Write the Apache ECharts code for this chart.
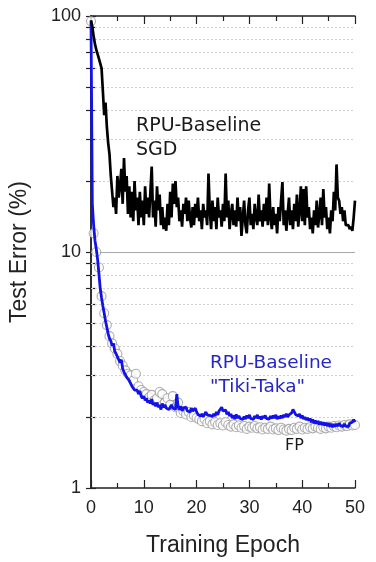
<!DOCTYPE html>
<html>
<head>
    <meta charset="utf-8">
    <title>Test error vs training epoch</title>
    <script src="https://cdn.jsdelivr.net/npm/echarts@6/dist/echarts.min.js"></script>
    <style>
        html, body { margin: 0; padding: 0; background: #fff; }
        #main { width: 376px; height: 562px; }
    </style>
</head>
<body>
<div id="main"></div>
<script type="text/javascript">
    // epoch spacing of the samples
    var lineStep = 0.25;
    var fpStep = 0.5;

    // RPU-Baseline SGD, test error (%) every 0.25 epoch
    var sgdErr = [
        96, 90, 82, 76, 72, 69, 66, 63,
        60, 48, 38, 43, 34, 29, 26, 21,
        18, 15.5, 17, 14.5, 21, 17, 19, 22.5,
        16, 25, 18, 21, 14.5, 19, 14, 18,
        13.5, 20, 15, 17, 13, 18, 14, 16.5,
        13, 19, 14.5, 17, 14, 18, 23, 14,
        16.5, 12.8, 19, 15, 17.5, 13, 15.5, 12.5,
        14, 12.3, 16, 13, 18, 14, 19.5, 16,
        20, 15.5, 17, 13.5, 15, 12.8, 16, 14.5,
        17, 13.5, 16.5, 14, 12.7, 15.5, 13, 16,
        14, 17, 13.5, 15, 12.5, 16, 14, 15,
        13, 21.5, 15, 12.5, 16.5, 13.5, 15.5, 12.5,
        17, 14, 15, 12.8, 16, 13.5, 21.5, 14,
        16.5, 12.5, 14.5, 16, 13, 15, 12.8, 17,
        13.5, 15.5, 11.7, 14, 16.5, 13, 12, 15,
        17, 13, 14.5, 12.5, 16, 14, 13, 17.5,
        13.5, 15, 12.8, 16, 13.5, 17, 13, 19.5,
        14, 12.5, 15.5, 13, 14.5, 12, 15.5, 13.5,
        16.5, 19.8, 13, 15, 12.3, 14.5, 17, 13,
        15, 12.5, 16, 13.5, 17.5, 12.8, 15, 19,
        13.5, 18.5, 13, 19, 14, 15.5, 12.5, 14,
        12, 15, 13, 16.5, 12.7, 14.5, 17, 13,
        18.5, 14, 15.5, 12.5, 14, 12, 15, 13.5,
        18, 15, 23.5, 17, 16.5, 14.5, 15.5, 13.5,
        15, 13, 12.8, 13, 12.5, 12.8, 12.3, 14,
        16.5
    ];

    // RPU-Baseline "Tiki-Taka", every 0.25 epoch
    var tikiErr = [
        95, 16, 13, 11.2, 10.3, 9.3, 8.1, 7.0,
        6.4, 5.9, 5.5, 5.1, 4.8, 4.5, 4.3, 4.2,
        4.0, 4.1, 3.8, 3.7, 3.6, 3.55, 3.4, 3.5,
        3.2, 3.1, 3.15, 2.95, 2.9, 2.85, 2.8, 2.7,
        2.72, 2.6, 2.55, 2.6, 2.5, 2.58, 2.45, 2.4,
        2.45, 2.35, 2.4, 2.3, 2.35, 2.28, 2.38, 2.25,
        2.3, 2.22, 2.3, 2.2, 2.25, 2.15, 2.28, 2.2,
        2.25, 2.18, 2.22, 2.15, 2.2, 2.25, 2.18, 2.2,
        2.15, 2.5, 2.2, 2.15, 2.22, 2.12, 2.18, 2.15,
        2.2, 2.12, 2.16, 2.1, 2.18, 2.12, 2.15, 2.18,
        2.1, 2.05, 2.08, 2.02, 2.06, 2.0, 2.05, 2.1,
        2.04, 2.08, 2.03, 2.07, 2.01, 2.06, 2.02, 2.1,
        2.04, 2.12, 2.15, 2.2, 2.12, 2.08, 2.14, 2.05,
        2.1, 2.02, 2.06, 1.98, 2.03, 1.96, 2.05, 1.98,
        2.02, 1.97, 2.0, 1.95, 2.01, 1.96, 2.03, 1.98,
        2.04, 1.97, 2.0, 1.95, 2.02, 1.98, 2.04, 1.97,
        2.01, 1.95, 2.02, 1.98, 2.03, 1.97, 2.0, 1.96,
        2.02, 1.97, 2.03, 1.98, 2.04, 1.96, 2.01, 1.97,
        2.03, 1.98, 2.04, 2.0, 2.06, 2.0, 2.04, 2.02,
        2.08, 2.15, 2.1, 2.05, 2.08, 2.02, 2.06, 1.98,
        2.03, 1.96, 2.0, 1.94, 1.98, 1.93, 1.97, 1.9,
        1.95, 1.88, 1.93, 1.87, 1.92, 1.86, 1.91, 1.85,
        1.9, 1.84, 1.89, 1.83, 1.88, 1.82, 1.87, 1.81,
        1.86, 1.82, 1.87, 1.83, 1.88, 1.84, 1.86, 1.82,
        1.87, 1.83, 1.85, 1.82, 1.88, 1.86, 1.9, 1.95,
        1.9
    ];

    // FP reference, every 0.5 epoch (circles)
    var fpErr = [
        95, 12, 10, 8.6, 6.5, 5.5, 4.9, 4.4, 4.1, 3.9,
        3.7, 3.45, 3.3, 3.15, 3.05, 3.0, 2.85, 3.05, 2.7, 2.6,
        2.55, 2.5, 2.42, 2.48, 2.35, 2.4, 2.55, 2.5, 2.3, 2.4,
        2.25, 2.45, 2.2, 2.3, 2.08, 2.12, 2.05, 2.1, 2.0, 2.03,
        1.98, 1.95, 1.92, 1.96, 1.88, 1.92, 1.86, 1.9, 1.85, 1.88,
        1.84, 1.9, 1.85, 1.82, 1.86, 1.81, 1.84, 1.8, 1.83, 1.78,
        1.82, 1.8, 1.83, 1.79, 1.81, 1.77, 1.8, 1.78, 1.82, 1.77,
        1.79, 1.76, 1.8, 1.77, 1.75, 1.78, 1.76, 1.8, 1.78, 1.82,
        1.77, 1.8, 1.78, 1.81, 1.79, 1.82, 1.8, 1.78, 1.81, 1.79,
        1.82, 1.8, 1.83, 1.81, 1.84, 1.82, 1.85, 1.83, 1.86, 1.84,
        1.85
    ];

    // log axis ticks / dotted grid values
    var yTicks = [1, 2, 3, 4, 5, 6, 7, 8, 9, 10, 20, 30, 40, 50, 60, 70, 80, 90, 100];
    var minorGrid = [2, 3, 4, 5, 6, 7, 8, 9, 20, 30, 40, 50, 60, 70, 80, 90];
    var majorGrid = [10];

    function toPairs(arr, step) {
        return arr.map(function (v, i) { return [i * step, v]; });
    }

    var labelFont = '"Liberation Sans", Arial, sans-serif';
    var noteFont = '"DejaVu Sans", Verdana, sans-serif';
    var axisColor = '#222';

    var gridLines = minorGrid.map(function (v) {
        return { yAxis: v, lineStyle: { type: [2, 2], color: '#d0d0d0', width: 1 } };
    }).concat(majorGrid.map(function (v) {
        return { yAxis: v, lineStyle: { type: 'solid', color: '#a8a8a8', width: 1 } };
    }));

    var myChart = echarts.init(document.getElementById('main'));

    var option = {
        animation: false,
        grid: { left: 91, right: 21, top: 16, bottom: 74 },
        xAxis: [{
            type: 'value',
            min: 0, max: 50, interval: 10,
            name: 'Training Epoch',
            nameLocation: 'middle',
            nameGap: 46,
            nameTextStyle: { fontFamily: labelFont, fontSize: 23, color: axisColor },
            axisLine: { lineStyle: { color: axisColor, width: 1.5 } },
            axisTick: { inside: true, length: 8, lineStyle: { color: axisColor, width: 1.2 } },
            minorTick: { show: true, splitNumber: 2, length: 5, lineStyle: { color: axisColor, width: 1.2 } },
            axisLabel: { fontFamily: labelFont, fontSize: 18, color: axisColor, margin: 11 },
            splitLine: { show: false }
        }, {
            type: 'value',
            position: 'top',
            min: 0, max: 50, interval: 10,
            axisLine: { show: true, lineStyle: { color: axisColor, width: 1.5 } },
            axisTick: { inside: true, length: 8, lineStyle: { color: axisColor, width: 1.2 } },
            minorTick: { show: true, splitNumber: 2, length: 5, lineStyle: { color: axisColor, width: 1.2 } },
            axisLabel: { show: false },
            splitLine: { show: false }
        }],
        yAxis: [{
            type: 'log',
            logBase: 10,
            min: 1, max: 100,
            name: 'Test Error (%)',
            nameLocation: 'middle',
            nameGap: 60,
            nameTextStyle: { fontFamily: labelFont, fontSize: 23, color: axisColor },
            axisLine: { show: true, lineStyle: { color: axisColor, width: 1.5 } },
            axisTick: { inside: true, length: 5, customValues: yTicks, lineStyle: { color: axisColor, width: 1.2 } },
            axisLabel: { fontFamily: labelFont, fontSize: 18, color: axisColor, margin: 10 },
            splitLine: { show: false }
        }, {
            type: 'log',
            logBase: 10,
            min: 1, max: 100,
            position: 'right',
            axisLine: { show: true, lineStyle: { color: axisColor, width: 1.5 } },
            axisTick: { inside: true, length: 5, customValues: yTicks, lineStyle: { color: axisColor, width: 1.2 } },
            axisLabel: { show: false },
            splitLine: { show: false }
        }],
        series: [{
            name: 'FP',
            type: 'scatter',
            data: toPairs(fpErr, fpStep),
            symbol: 'circle',
            symbolSize: 9,
            itemStyle: { color: '#fff', borderColor: '#9a9a9a', borderWidth: 1.1 },
            z: 2,
            markLine: {
                silent: true,
                symbol: ['none', 'none'],
                label: { show: false },
                z: 1,
                data: gridLines
            }
        }, {
            name: 'RPU-Baseline "Tiki-Taka"',
            type: 'line',
            data: toPairs(tikiErr, lineStep),
            showSymbol: false,
            lineStyle: { color: '#1212e8', width: 2.8 },
            z: 3
        }, {
            name: 'RPU-Baseline SGD',
            type: 'line',
            data: toPairs(sgdErr, lineStep),
            showSymbol: false,
            lineStyle: { color: '#000', width: 2.7 },
            z: 4
        }],
        graphic: [
            { type: 'text', x: 136, y: 126, style: { text: 'RPU-Baseline', font: '19px ' + noteFont, fill: '#1a1a1a', verticalAlign: 'middle' } },
            { type: 'text', x: 136, y: 150, style: { text: 'SGD', font: '19px ' + noteFont, fill: '#1a1a1a', verticalAlign: 'middle' } },
            { type: 'text', x: 210, y: 363, style: { text: 'RPU-Baseline', font: '18.5px ' + noteFont, fill: '#2626c8', verticalAlign: 'middle' } },
            { type: 'text', x: 210, y: 387, style: { text: '"Tiki-Taka"', font: '18.5px ' + noteFont, fill: '#2626c8', verticalAlign: 'middle' } },
            { type: 'text', x: 285, y: 446, style: { text: 'FP', font: '16px ' + noteFont, fill: '#1a1a1a', verticalAlign: 'middle' } }
        ]
    };

    myChart.setOption(option);
</script>
</body>
</html>
